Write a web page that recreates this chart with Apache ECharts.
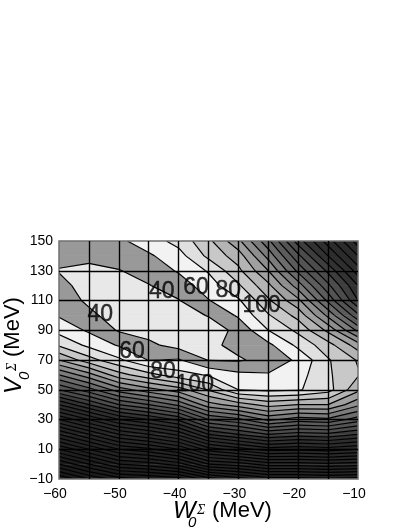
<!DOCTYPE html>
<html>
<head>
<meta charset="utf-8">
<style>
  html, body { margin: 0; padding: 0; background: #fff; }
  #chart { width: 409px; height: 529px; }
</style>
<script src="https://cdn.jsdelivr.net/npm/echarts@6/dist/echarts.min.js"></script>
</head>
<body>
<div id="chart"></div>
<script>
const wValues = [-60, -55, -50, -45, -40, -35, -30, -25, -20, -15, -10];
const vValues = [150, 140, 130, 120, 110, 100, 90, 80, 70, 60, 50, 40, 30, 20, 10, 0, -10];

// chi square, one row per V value, top row first
const chiRows = [
  [45, 48, 56, 70, 87, 115, 155, 215, 290, 350, 410],
  [45, 43, 50, 57, 72, 105, 130, 187, 255, 320, 380],
  [39, 37, 39, 48, 62, 82, 115, 160, 225, 285, 350],
  [46, 32, 32, 39, 50, 70, 97, 135, 190, 255, 320],
  [52, 36, 28, 32, 39, 59, 77, 117, 155, 225, 300],
  [58, 45, 30, 28, 32, 41, 63, 98, 127, 185, 255],
  [73, 57, 38, 33, 30, 30, 45, 80, 105, 145, 205],
  [97, 75, 58, 44, 33, 36, 45, 55, 85, 112, 150],
  [140, 108, 84, 59, 62, 39, 38, 46, 64, 98, 122],
  [200, 168, 128, 107, 88, 78, 65, 62, 72, 97, 118],
  [260, 228, 190, 168, 150, 118, 80, 76, 78, 92, 135],
  [340, 300, 260, 240, 215, 168, 150, 132, 140, 140, 175],
  [420, 380, 340, 320, 295, 240, 225, 195, 210, 205, 230],
  [500, 460, 420, 400, 375, 320, 300, 280, 290, 285, 300],
  [580, 540, 500, 485, 460, 410, 390, 370, 375, 370, 380],
  [660, 620, 580, 570, 550, 500, 490, 470, 470, 465, 470],
  [740, 700, 670, 660, 650, 610, 590, 570, 570, 565, 570]
];

// contour labels placed on the lines: W, V, text
const contourLabels = [
  [-53.1, 100.3, '40'],
  [-42.8, 115.7, '40'],
  [-37.1, 118.4, '60'],
  [-31.7, 116.4, '80'],
  [-26.1, 106.3, '100'],
  [-47.8, 75.4, '60'],
  [-42.6, 61.9, '80'],
  [-37.3, 53.2, '100']
];

const firstLevel = 40;
const levelStep = 20;
const lastLevel = 760;
// one gray per band, the first is below 40
const bandGrays = [
  '#e8e8e8', '#999999', '#f2f2f2', '#e0e0e0', '#c8c8c8', '#b4b4b4', '#a0a0a0', '#8e8e8e',
  '#7c7c7c', '#6c6c6c', '#5c5c5c', '#545454', '#4c4c4c', '#3e3e3e', '#323232', '#2e2e2e',
  '#2c2c2c', '#2b2b2b', '#2a2a2a', '#292929', '#282828', '#272727', '#262626', '#252525',
  '#242424', '#232323', '#222222', '#212121', '#202020', '#1f1f1f', '#1e1e1e', '#1d1d1d',
  '#1c1c1c', '#1b1b1b', '#1a1a1a', '#191919', '#181818', '#171717'
];

const levels = [];
for (let l = firstLevel; l <= lastLevel; l += levelStep) {
  levels.push(l + 0.001);
}

// cut a polygon of [w, v, z] points, keep the side above or below level
function clipPoly(points, level, keepAbove) {
  const out = [];
  for (let i = 0; i < points.length; i++) {
    const a = points[i];
    const b = points[(i + 1) % points.length];
    const aIn = keepAbove ? a[2] >= level : a[2] <= level;
    const bIn = keepAbove ? b[2] >= level : b[2] <= level;
    if (aIn) out.push(a);
    if (aIn !== bIn) {
      const t = (level - a[2]) / (b[2] - a[2]);
      out.push([a[0] + t * (b[0] - a[0]), a[1] + t * (b[1] - a[1]), level]);
    }
  }
  return out;
}

function cellCorners(i, j) {
  return [
    [wValues[i], vValues[j], chiRows[j][i]],
    [wValues[i + 1], vValues[j], chiRows[j][i + 1]],
    [wValues[i + 1], vValues[j + 1], chiRows[j + 1][i + 1]],
    [wValues[i], vValues[j + 1], chiRows[j + 1][i]]
  ];
}

const cells = [];
for (let j = 0; j < vValues.length - 1; j++) {
  for (let i = 0; i < wValues.length - 1; i++) {
    cells.push([wValues[i], vValues[j], i, j]);
  }
}

function renderBands(params, api) {
  const corners = cellCorners(api.value(2), api.value(3));
  const children = [];
  for (let b = 0; b <= levels.length; b++) {
    let poly = corners;
    if (b > 0) poly = clipPoly(poly, levels[b - 1], true);
    if (b < levels.length && poly.length) poly = clipPoly(poly, levels[b], false);
    if (poly.length < 3) continue;
    const color = bandGrays[Math.min(b, bandGrays.length - 1)];
    children.push({
      type: 'polygon',
      shape: {points: poly.map((p) => api.coord([p[0], p[1]]))},
      style: {fill: color, stroke: color, lineWidth: 0.6}
    });
  }
  return {type: 'group', children: children};
}

function renderLines(params, api) {
  const corners = cellCorners(api.value(2), api.value(3));
  const children = [];
  levels.forEach((level) => {
    const hits = [];
    for (let k = 0; k < 4; k++) {
      const a = corners[k];
      const b = corners[(k + 1) % 4];
      if ((a[2] < level) !== (b[2] < level)) {
        const t = (level - a[2]) / (b[2] - a[2]);
        hits.push(api.coord([a[0] + t * (b[0] - a[0]), a[1] + t * (b[1] - a[1])]));
      }
    }
    const pairs = [];
    if (hits.length === 2) {
      pairs.push([hits[0], hits[1]]);
    } else if (hits.length === 4) {
      const mid = (corners[0][2] + corners[1][2] + corners[2][2] + corners[3][2]) / 4;
      if ((mid < level) === (corners[0][2] < level)) {
        pairs.push([hits[0], hits[1]], [hits[2], hits[3]]);
      } else {
        pairs.push([hits[3], hits[0]], [hits[1], hits[2]]);
      }
    }
    pairs.forEach((pair) => {
      children.push({
        type: 'line',
        shape: {x1: pair[0][0], y1: pair[0][1], x2: pair[1][0], y2: pair[1][1]},
        style: {stroke: '#000', lineWidth: 1.2}
      });
    });
  });
  return {type: 'group', children: children};
}

function axisText(value) {
  return String(value).replace('-', '\u2212');
}

const FONT = '"Liberation Sans", Arial, sans-serif';
const chart = echarts.init(document.getElementById('chart'), null, {renderer: 'canvas'});

chart.setOption({
  animation: false,
  backgroundColor: '#fff',
  grid: {
    show: true,
    z: 4,
    left: 59,
    right: 51,
    top: 241,
    bottom: 50,
    containLabel: false,
    backgroundColor: 'transparent',
    borderColor: '#707070',
    borderWidth: 1.5
  },
  xAxis: {
    type: 'value',
    min: -60,
    max: -10,
    interval: 5,
    z: 5,
    axisLine: {show: false, onZero: false},
    axisTick: {show: false},
    splitLine: {show: true, showMinLine: false, showMaxLine: false, lineStyle: {color: '#000', width: 1.4}},
    axisLabel: {
      color: '#000',
      fontFamily: FONT,
      fontSize: 14,
      margin: 8,
      padding: [0, 8, 0, 0],
      formatter: (v) => (v % 10 === 0 ? axisText(v) : '')
    }
  },
  yAxis: {
    type: 'value',
    min: -10,
    max: 150,
    interval: 20,
    z: 5,
    axisLine: {show: false, onZero: false},
    axisTick: {show: false},
    splitLine: {show: true, showMinLine: false, showMaxLine: false, lineStyle: {color: '#000', width: 1.4}},
    axisLabel: {
      color: '#000',
      fontFamily: FONT,
      fontSize: 14,
      margin: 6,
      formatter: axisText
    }
  },
  series: [
    {type: 'custom', z: 1, silent: true, clip: true, data: cells, renderItem: renderBands},
    {type: 'custom', z: 2, silent: true, clip: true, data: cells, renderItem: renderLines},
    {
      type: 'scatter',
      z: 8,
      silent: true,
      symbolSize: 0,
      data: contourLabels,
      label: {
        show: true,
        position: 'inside',
        color: '#000',
        fontFamily: FONT,
        fontSize: 23,
        textBorderColor: '#000',
        textBorderWidth: 0.4,
        formatter: (p) => p.data[2]
      }
    }
  ],
  graphic: [
    {type: 'text', left: 173, top: 499, style: {text: 'W', font: 'italic 24px ' + FONT, fill: '#000'}},
    {type: 'text', left: 188, top: 515, style: {text: '0', font: 'italic 15px ' + FONT, fill: '#000'}},
    {type: 'text', left: 197, top: 503, style: {text: '\u03a3', font: 'italic 14px "Liberation Serif", serif', fill: '#000'}},
    {type: 'text', left: 212, top: 500, style: {text: '(MeV)', font: '22px ' + FONT, fill: '#000'}},
    {
      type: 'group',
      x: 14,
      y: 394,
      rotation: Math.PI / 2,
      children: [
        {type: 'text', x: 0, y: -12, style: {text: 'V', font: 'italic 24px ' + FONT, fill: '#000'}},
        {type: 'text', x: 14, y: 3, style: {text: '0', font: 'italic 15px ' + FONT, fill: '#000'}},
        {type: 'text', x: 23, y: -9, style: {text: '\u03a3', font: 'italic 14px "Liberation Serif", serif', fill: '#000'}},
        {type: 'text', x: 37, y: -12, style: {text: '(MeV)', font: '22px ' + FONT, fill: '#000'}}
      ]
    }
  ]
});
</script>
</body>
</html>
